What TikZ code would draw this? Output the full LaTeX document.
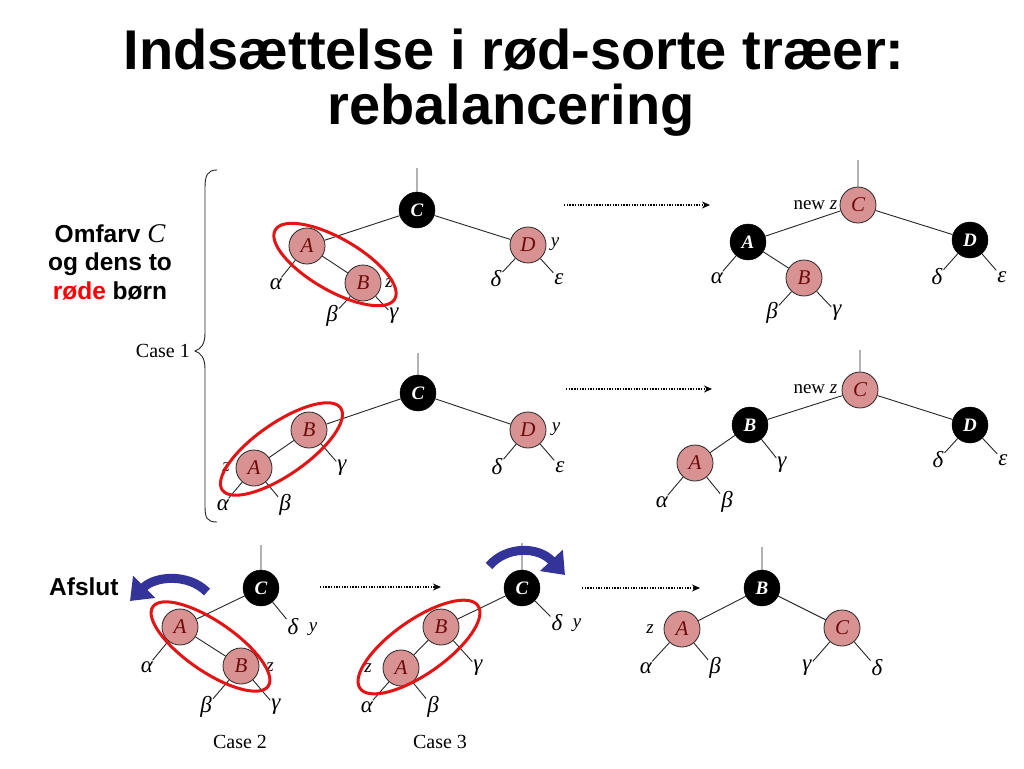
\documentclass[tikz,border=0pt]{standalone}
\usepackage{fontspec}
\setmainfont{Liberation Serif}
\newfontfamily\sansfont{Liberation Sans}
\usetikzlibrary{arrows.meta,calc}
\definecolor{rbpink}{RGB}{217,146,146}
\definecolor{rbtext}{RGB}{110,10,10}
\definecolor{ovalred}{RGB}{228,20,20}
\definecolor{arrowblue}{RGB}{51,51,153}
\begin{document}
\begin{tikzpicture}[x=1pt,y=-1pt,
  rednode/.style={circle,draw=black!85,line width=0.8pt,fill=rbpink,minimum size=36pt,inner sep=0pt,font=\fontsize{21}{21}\selectfont\itshape,text=rbtext},
  blacknode/.style={circle,draw=black,fill=black,minimum size=36pt,inner sep=0pt,font=\fontsize{19}{19}\selectfont\bfseries\itshape,text=white},
  greek/.style={inner sep=1pt,font=\fontsize{23}{23}\selectfont\itshape},
  tagtext/.style={inner sep=0.5pt,font=\fontsize{19}{19}\selectfont\itshape},
  caselbl/.style={inner sep=0pt,font=\fontsize{20}{20}\selectfont},
  treeline/.style={line width=0.9pt,draw=black!85},
  redoval/.style={draw=ovalred,line width=3pt},
  dotarrow/.style={line width=1.4pt,dash pattern=on 1.4pt off 1.3pt,-{Stealth[length=8pt,width=7pt]}},
  bluearrow/.style={draw=arrowblue,line width=9pt,-{Triangle[length=20pt,width=30pt]}},
  titletext/.style={inner sep=0pt,font=\sansfont\bfseries\fontsize{56}{60}\selectfont},
  sidetext/.style={inner sep=0pt,align=center,font=\sansfont\bfseries\fontsize{24.5}{28.5}\selectfont},
  bracestyle/.style={line width=0.9pt,draw=black!85}
]
\useasboundingbox[fill=white] (0,0) rectangle (1024,768);

% title
\node[titletext,anchor=base] (t1) at (514,70) {Indsættelse i rød-sorte træer:};
\node[titletext,anchor=base] (t2) at (511,124) {rebalancering};

% left text and brace
\node[sidetext] (omf) at (110,262) {Omfarv {\rmfamily\mdseries\itshape\fontsize{27}{28.5}\selectfont C}\\og dens to\\{\color{red}røde} børn};
\draw[bracestyle] (217,170) .. controls (207,170) and (205,176) .. (205,188) -- (205,333) .. controls (205,344) and (201,349) .. (195,351) .. controls (201,353) and (205,358) .. (205,369) -- (205,506) .. controls (205,518) and (207,522) .. (217,522);
\node[caselbl,anchor=east] (case1) at (190,351) {Case 1};

% ---------- row 1 left
\coordinate (p1) at (417,168);
\node[blacknode] (r1C) at (417,210) {C};
\node[rednode] (r1A) at (307,246) {A};
\node[rednode] (r1B) at (363,283) {B};
\node[rednode] (r1D) at (528,245) {D};
\node[greek] (r1al) at (276,284) {α};
\node[greek] (r1be) at (332,316) {β};
\node[greek] (r1ga) at (394,316) {γ};
\node[greek] (r1de) at (496,279) {δ};
\node[greek] (r1ep) at (559,279) {ε};
\node[tagtext] (r1z) at (389,283) {z};
\node[tagtext] (r1y) at (555,244) {y};
\draw[treeline] (p1) -- (r1C) (r1C) -- (r1A) (r1C) -- (r1D) (r1A) -- (r1B)
  (r1A) -- (r1al) (r1B) -- (r1be) (r1B) -- (r1ga) (r1D) -- (r1de) (r1D) -- (r1ep);
\coordinate (o1) at ($(r1A)!0.5!(r1B)$);
\draw[redoval,rotate around={-30:(o1)}] (o1) ellipse [x radius=69pt,y radius=26pt];

\coordinate (d1s) at (564,205); \coordinate (d1e) at (710,205);
\draw[dotarrow] (d1s) -- (d1e);

% ---------- row 1 right
\coordinate (p2) at (858,160);
\node[rednode] (r2C) at (858,205) {C};
\node[blacknode] (r2A) at (748,242) {A};
\node[rednode] (r2B) at (804,278) {B};
\node[blacknode] (r2D) at (970,240) {D};
\node[greek] (r2al) at (717,278) {α};
\node[greek] (r2be) at (772,313) {β};
\node[greek] (r2ga) at (837,313) {γ};
\node[greek] (r2de) at (937,277) {δ};
\node[greek] (r2ep) at (1002,277) {ε};
\node[tagtext,anchor=east] (r2nz) at (838,205) {\upshape new \itshape z};
\draw[treeline] (p2) -- (r2C) (r2C) -- (r2A) (r2C) -- (r2D) (r2A) -- (r2B)
  (r2A) -- (r2al) (r2B) -- (r2be) (r2B) -- (r2ga) (r2D) -- (r2de) (r2D) -- (r2ep);

% ---------- row 2 left
\coordinate (p3) at (418,353);
\node[blacknode] (r3C) at (418,393) {C};
\node[rednode] (r3B) at (309,430) {B};
\node[rednode] (r3A) at (254,468) {A};
\node[rednode] (r3D) at (528,430) {D};
\node[greek] (r3al) at (223,505) {α};
\node[greek] (r3be) at (285,505) {β};
\node[greek] (r3ga) at (342,468) {γ};
\node[greek] (r3de) at (497,467) {δ};
\node[greek] (r3ep) at (560,467) {ε};
\node[tagtext] (r3z) at (226,467) {z};
\node[tagtext] (r3y) at (556,429) {y};
\draw[treeline] (p3) -- (r3C) (r3C) -- (r3B) (r3C) -- (r3D) (r3B) -- (r3A)
  (r3B) -- (r3ga) (r3A) -- (r3al) (r3A) -- (r3be) (r3D) -- (r3de) (r3D) -- (r3ep);
\coordinate (o3) at ($(r3A)!0.5!(r3B)$);
\draw[redoval,rotate around={34.7:(o3)}] (o3) ellipse [x radius=72pt,y radius=26pt];

\coordinate (d2s) at (566,389); \coordinate (d2e) at (712,389);
\draw[dotarrow] (d2s) -- (d2e);

% ---------- row 2 right
\coordinate (p4) at (860,350);
\node[rednode] (r4C) at (860,390) {C};
\node[blacknode] (r4B) at (750,425) {B};
\node[rednode] (r4A) at (695,463) {A};
\node[blacknode] (r4D) at (970,425) {D};
\node[greek] (r4al) at (662,502) {α};
\node[greek] (r4be) at (727,502) {β};
\node[greek] (r4ga) at (782,465) {γ};
\node[greek] (r4de) at (938,460) {δ};
\node[greek] (r4ep) at (1003,460) {ε};
\node[tagtext,anchor=east] (r4nz) at (838,389) {\upshape new \itshape z};
\draw[treeline] (p4) -- (r4C) (r4C) -- (r4B) (r4C) -- (r4D) (r4B) -- (r4A)
  (r4B) -- (r4ga) (r4A) -- (r4al) (r4A) -- (r4be) (r4D) -- (r4de) (r4D) -- (r4ep);

% ---------- row 3: case 2
\coordinate (p5) at (261,545);
\node[blacknode] (r5C) at (261,588) {C};
\node[rednode] (r5A) at (180,627) {A};
\node[rednode] (r5B) at (241,666) {B};
\node[greek] (r5al) at (147,667) {α};
\node[greek] (r5be) at (206,707) {β};
\node[greek] (r5ga) at (276,707) {γ};
\node[greek] (r5de) at (293,627) {δ};
\node[tagtext] (r5z) at (270,667) {z};
\node[tagtext] (r5y) at (313,629) {y};
\draw[treeline] (p5) -- (r5C) (r5C) -- (r5A) (r5C) -- (r5de) (r5A) -- (r5B)
  (r5A) -- (r5al) (r5B) -- (r5be) (r5B) -- (r5ga);
\coordinate (o5) at ($(r5A)!0.5!(r5B)$);
\draw[redoval,rotate around={-34.5:(o5)}] (o5) ellipse [x radius=70pt,y radius=25pt];
\node[caselbl] (case2) at (240,742) {Case 2};

\coordinate (d3s) at (320,587); \coordinate (d3e) at (441,587);
\draw[dotarrow] (d3s) -- (d3e);

% ---------- row 3: case 3
\coordinate (p6) at (522,543);
\node[blacknode] (r6C) at (522,588) {C};
\node[rednode] (r6B) at (441,627) {B};
\node[rednode] (r6A) at (401,668) {A};
\node[greek] (r6al) at (367,707) {α};
\node[greek] (r6be) at (433,707) {β};
\node[greek] (r6ga) at (478,668) {γ};
\node[greek] (r6de) at (557,623) {δ};
\node[tagtext] (r6z) at (368,668) {z};
\node[tagtext] (r6y) at (577,625) {y};
\draw[treeline] (p6) -- (r6C) (r6C) -- (r6B) (r6C) -- (r6de) (r6B) -- (r6A)
  (r6B) -- (r6ga) (r6A) -- (r6al) (r6A) -- (r6be);
\coordinate (o6) at (419,647);
\draw[redoval,rotate around={35:(o6)}] (o6) ellipse [x radius=72pt,y radius=27pt];
\node[caselbl] (case3) at (440,742) {Case 3};

\coordinate (d4s) at (582,588); \coordinate (d4e) at (700,588);
\draw[dotarrow] (d4s) -- (d4e);

% ---------- row 3: result
\coordinate (p7) at (762,547);
\node[blacknode] (r7B) at (762,588) {B};
\node[rednode] (r7A) at (682,629) {A};
\node[rednode] (r7C) at (842,628) {C};
\node[greek] (r7al) at (646,668) {α};
\node[greek] (r7be) at (715,668) {β};
\node[greek] (r7ga) at (807,668) {γ};
\node[greek] (r7de) at (877,668) {δ};
\node[tagtext] (r7z) at (650,629) {z};
\draw[treeline] (p7) -- (r7B) (r7B) -- (r7A) (r7B) -- (r7C)
  (r7A) -- (r7al) (r7A) -- (r7be) (r7C) -- (r7ga) (r7C) -- (r7de);

% blue rotation arrows
\node[sidetext,anchor=west] (afslut) at (49,587) {Afslut};
\coordinate (b1s) at (207,592); \coordinate (b1e) at (130,601);
\draw[bluearrow] (b1s) .. controls (188,573) and (155,576) .. (b1e);
\coordinate (b2s) at (489,566); \coordinate (b2e) at (565,575);
\draw[bluearrow] (b2s) .. controls (506,546) and (538,546) .. (b2e);
\end{tikzpicture}
\end{document}
